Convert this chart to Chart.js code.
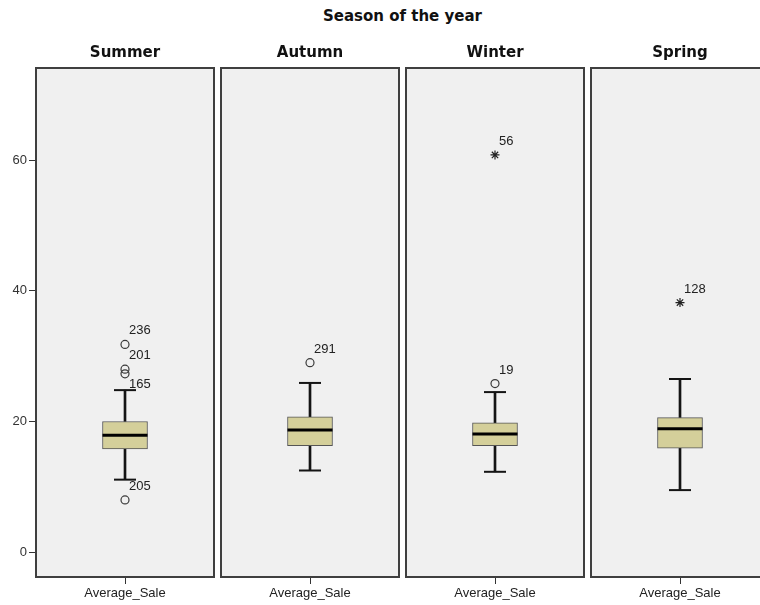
<!DOCTYPE html>
<html>
<head>
<meta charset="utf-8">
<title>Average_Sale by Season of the year</title>
<script src="https://cdn.jsdelivr.net/npm/chart.js@4.4.1/dist/chart.umd.min.js"></script>
<style>
  html, body { margin: 0; padding: 0; background: #ffffff; }
  #wrap { position: relative; width: 760px; height: 605px; overflow: hidden; background: #ffffff; }
  #supertitle {
    position: absolute; left: 36px; width: 733px; top: 7px; height: 20px; line-height: 20px;
    text-align: center; font: bold 15px "DejaVu Sans", Verdana, sans-serif; color: #111;
  }
  canvas { position: absolute; top: 0; }
</style>
</head>
<body>
<div id="wrap">
  <div id="supertitle">Season of the year</div>
</div>
<script>
// Panels (one per season) and the single variable plotted in each
const seasons = ['Summer', 'Autumn', 'Winter', 'Spring'];
const variableName = 'Average_Sale';
const yTicks = [0, 20, 40, 60];

// Box-plot summary statistics per season
const whiskerLow  = [11.1, 12.5, 12.3,  9.5];
const q1          = [15.8, 16.3, 16.3, 15.9];
const median      = [17.9, 18.7, 18.1, 18.9];
const q3          = [20.0, 20.7, 19.8, 20.6];
const whiskerHigh = [24.8, 25.9, 24.5, 26.5];

// Outliers (circles) and extreme values (stars), with their case numbers
const outlierValues = [[31.8, 28.0, 27.3, 8.0], [29.0], [25.8], []];
const outlierIds    = [[236, 201, 165, 205], [291], [19], []];
const extremeValues = [[], [], [60.8], [38.2]];
const extremeIds    = [[], [], [56], [128]];

const Y_MIN = -3.8, Y_MAX = 74.1;
const PANEL_W = 178, PANEL_STEP = 185, FIRST_PANEL_LEFT = 36, CANVAS_H = 605;

const tickFont = { family: '"Liberation Sans", Arial, sans-serif', size: 13 };

// Grey panel with a dark frame behind each box plot
const panelPlugin = {
  id: 'panel',
  beforeDraw(chart) {
    const a = chart.chartArea, ctx = chart.ctx;
    ctx.save();
    ctx.fillStyle = '#f0f0f0';
    ctx.fillRect(a.left, a.top, a.right - a.left, a.bottom - a.top);
    ctx.restore();
  },
  beforeDatasetsDraw(chart) {
    const a = chart.chartArea, ctx = chart.ctx;
    ctx.save();
    ctx.strokeStyle = '#3f3f3f';
    ctx.lineWidth = 2;
    ctx.strokeRect(a.left, a.top, a.right - a.left, a.bottom - a.top);
    ctx.restore();
  }
};

// Season name centred above each panel
const headerPlugin = {
  id: 'header',
  afterDraw(chart) {
    const a = chart.chartArea, ctx = chart.ctx;
    ctx.save();
    ctx.font = 'bold 15px "DejaVu Sans", Verdana, sans-serif';
    ctx.fillStyle = '#111';
    ctx.textAlign = 'center';
    ctx.textBaseline = 'middle';
    ctx.fillText(chart.options.plugins.header.text, (a.left + a.right) / 2, a.top - 15);
    ctx.restore();
  }
};

// Case numbers next to outliers / extremes; clashing labels drop below the point
const idLabelPlugin = {
  id: 'idLabels',
  afterDatasetsDraw(chart) {
    const ctx = chart.ctx;
    const items = [];
    chart.data.datasets.forEach((ds, di) => {
      if (!ds.pointIds) return;
      chart.getDatasetMeta(di).data.forEach((el, i) => {
        items.push({ x: el.x, y: el.y, id: ds.pointIds[i] });
      });
    });
    items.sort((p, q) => p.y - q.y);
    ctx.save();
    ctx.font = '13px "Liberation Sans", Arial, sans-serif';
    ctx.fillStyle = '#222';
    ctx.textAlign = 'left';
    ctx.textBaseline = 'alphabetic';
    let prev = -Infinity;
    items.forEach(it => {
      let base = it.y - 10;
      if (base - prev < 12) base = it.y + 14;
      ctx.fillText(String(it.id), it.x + 4, base);
      prev = base;
    });
    ctx.restore();
  }
};

const wrap = document.getElementById('wrap');

seasons.forEach((season, i) => {
  const first = i === 0;
  const panelLeft = FIRST_PANEL_LEFT + i * PANEL_STEP;
  const padL = first ? 0 : 2;
  const canvasLeft = first ? 0 : panelLeft - padL;
  const canvasW = (first ? FIRST_PANEL_LEFT : padL) + PANEL_W + 2;

  const canvas = document.createElement('canvas');
  canvas.width = canvasW;
  canvas.height = CANVAS_H;
  canvas.style.left = canvasLeft + 'px';
  canvas.style.width = canvasW + 'px';
  canvas.style.height = CANVAS_H + 'px';
  wrap.appendChild(canvas);

  const datasets = [
    // box from Q1 to Q3
    { type: 'bar', data: [[q1[i], q3[i]]], grouped: false, barThickness: 45,
      backgroundColor: '#d4cf9a', borderColor: '#555555', borderWidth: 1, borderSkipped: false, order: 3 },
    // whisker stems
    { type: 'bar', data: [[whiskerLow[i], q1[i]]], grouped: false, barThickness: 2,
      backgroundColor: '#141414', borderWidth: 0, order: 4 },
    { type: 'bar', data: [[q3[i], whiskerHigh[i]]], grouped: false, barThickness: 2,
      backgroundColor: '#141414', borderWidth: 0, order: 4 },
    // whisker caps
    { type: 'line', data: [whiskerLow[i]], showLine: false, pointStyle: 'line', pointRadius: 11,
      pointBorderColor: '#141414', pointBorderWidth: 2, order: 2 },
    { type: 'line', data: [whiskerHigh[i]], showLine: false, pointStyle: 'line', pointRadius: 11,
      pointBorderColor: '#141414', pointBorderWidth: 2, order: 2 },
    // median
    { type: 'line', data: [median[i]], showLine: false, pointStyle: 'line', pointRadius: 22.5,
      pointBorderColor: '#000000', pointBorderWidth: 3, order: 1 }
  ];
  if (outlierValues[i].length) {
    datasets.push({ type: 'line', showLine: false,
      data: outlierValues[i].map(v => ({ x: variableName, y: v })), pointIds: outlierIds[i],
      pointStyle: 'circle', pointRadius: 4, pointBorderColor: '#3a3a3a', pointBorderWidth: 1.2,
      pointBackgroundColor: 'rgba(0,0,0,0)', order: 0 });
  }
  if (extremeValues[i].length) {
    datasets.push({ type: 'line', showLine: false,
      data: extremeValues[i].map(v => ({ x: variableName, y: v })), pointIds: extremeIds[i],
      pointStyle: 'star', pointRadius: 4.5, pointBorderColor: '#222222', pointBorderWidth: 1.2,
      order: 0 });
  }

  new Chart(canvas, {
    type: 'bar',
    data: { labels: [variableName], datasets },
    options: {
      responsive: false,
      animation: false,
      events: [],
      layout: { autoPadding: false, padding: { top: 68, left: padL, right: 2, bottom: 0 } },
      plugins: {
        legend: { display: false },
        tooltip: { enabled: false },
        header: { text: season }
      },
      scales: {
        x: {
          type: 'category',
          offset: true,
          border: { display: false },
          grid: { drawOnChartArea: false, offset: false, tickLength: 7, color: '#333333', lineWidth: 1 },
          ticks: { padding: 2, color: '#222222', font: tickFont },
          afterFit(scale) { scale.height = 28; }
        },
        y: {
          display: first,
          min: Y_MIN,
          max: Y_MAX,
          border: { display: false },
          grid: { drawOnChartArea: false, tickLength: 7, color: '#333333', lineWidth: 1 },
          ticks: { padding: 2, color: '#333333', font: tickFont },
          afterBuildTicks(scale) { scale.ticks = yTicks.map(v => ({ value: v })); },
          afterFit(scale) { if (first) scale.width = FIRST_PANEL_LEFT; }
        }
      }
    },
    plugins: [panelPlugin, headerPlugin, idLabelPlugin]
  });
});
</script>
</body>
</html>
